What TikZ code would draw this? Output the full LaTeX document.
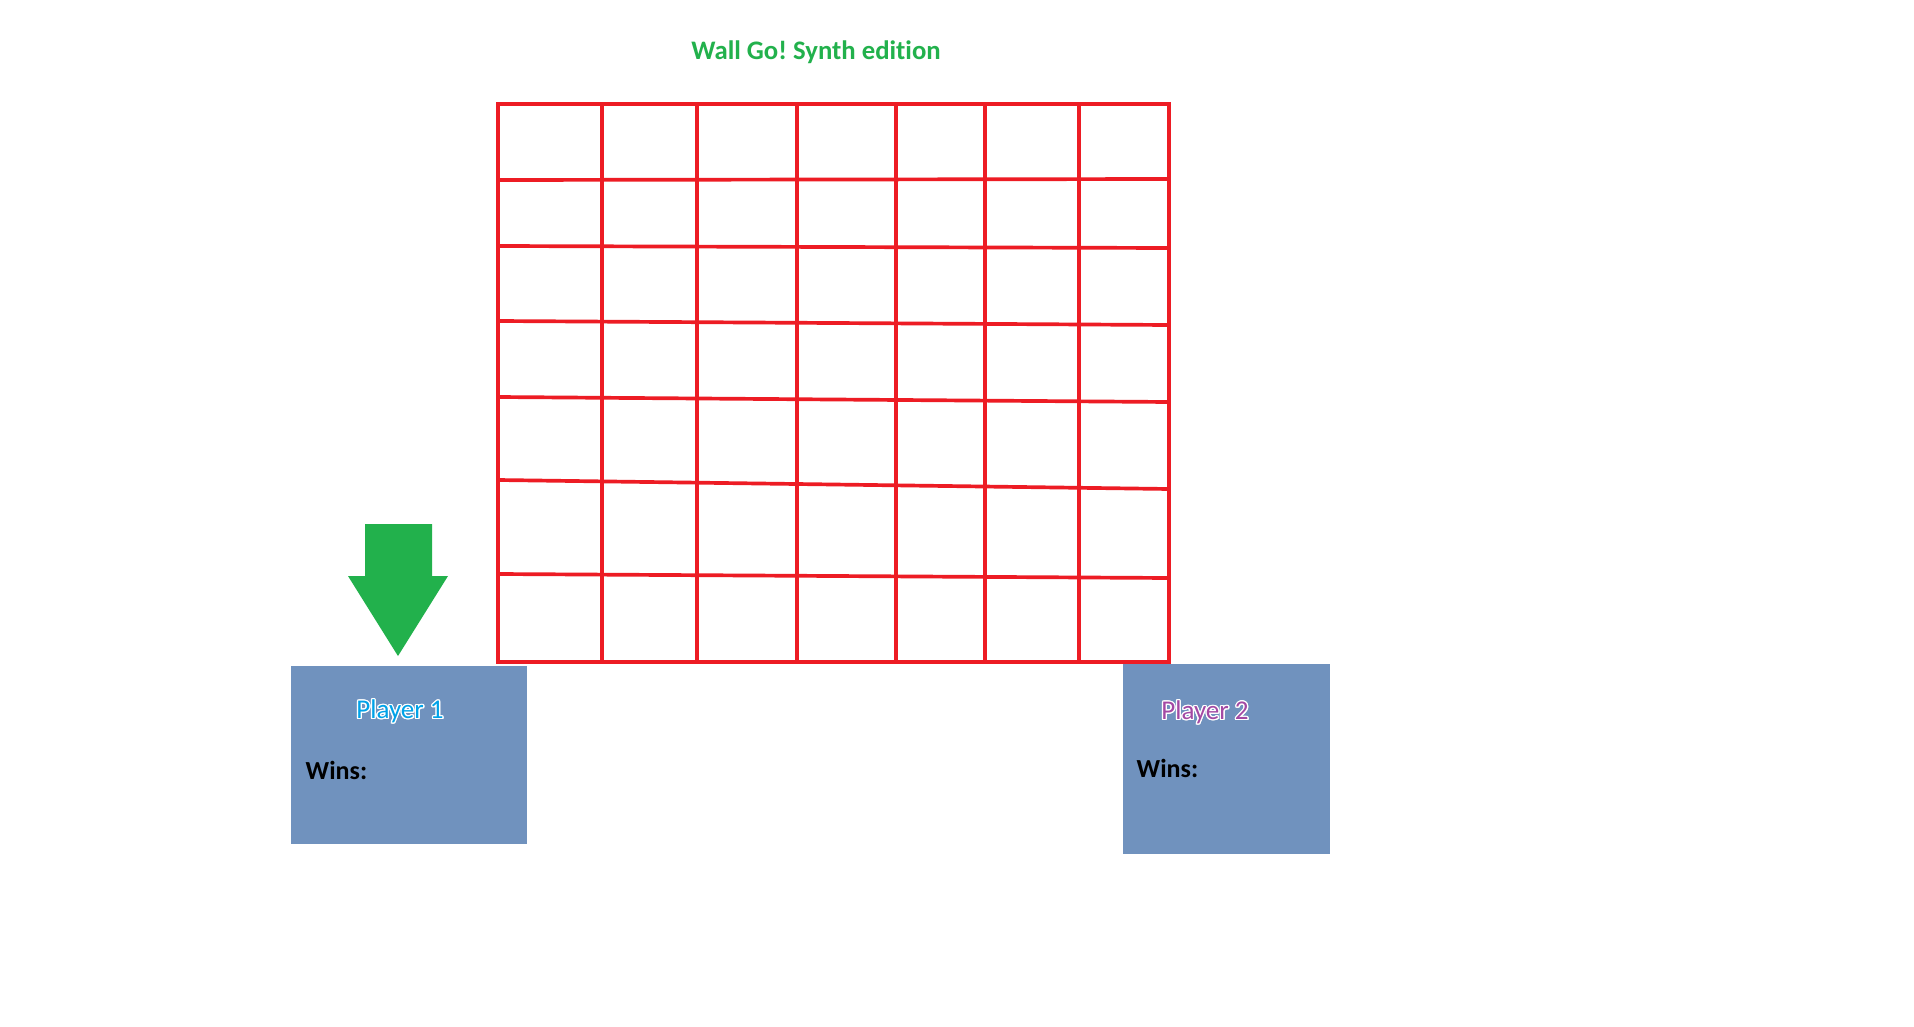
\documentclass[tikz,border=0pt]{standalone}
\usepackage{fontspec}
\setmainfont{Carlito}[Ligatures=NoCommon]
\usepackage{contour}
\contourlength{0.35pt}
\usetikzlibrary{positioning}
\definecolor{paint_red}{HTML}{ED1C24}
\definecolor{paint_green}{HTML}{22B14C}
\definecolor{paint_slate}{HTML}{7092BE}
\definecolor{paint_cyan}{HTML}{00A2E8}
\definecolor{paint_purple}{HTML}{A349A4}
\tikzset{
    x=0.01cm,
    y=-0.01cm,
    wall_line/.style={
        draw=paint_red,
        line width=1.05pt,
        line cap=rect
    },
    game_title/.style={
        text=paint_green,
        font=\bfseries\fontsize{7.6}{9}\selectfont,
        inner sep=0pt
    },
    player_box/.style={
        rectangle,
        fill=paint_slate,
        inner sep=0pt
    },
    player_name/.style={
        font=\fontsize{7.7}{9}\selectfont,
        inner sep=0pt
    },
    wins_label/.style={
        font=\bfseries\fontsize{7.4}{9}\selectfont,
        inner sep=0pt,
        anchor=west
    },
    turn_arrow/.style={
        fill=paint_green,
        draw=none
    }
}

\begin{document}
\begin{tikzpicture}
\useasboundingbox[fill=white] (0,0) rectangle (1914,1027);

% --- Title ---
\node[game_title] (Title) at (816,52) {Wall Go!\ Synth edition};

% --- Board ---
\foreach \x in {498,602,697,797,896,985,1079,1169}
    \draw[wall_line] (\x,104) -- (\x,662);
\foreach \yl/\yr in {104/104,180/179,246/248,321/325,397/402,480/489,574/578,662/662}
    \draw[wall_line] (498,\yl) -- (1169,\yr);

% --- Player 1 ---
\node[player_box, minimum width=2.36cm, minimum height=1.78cm] (P1Box) at (409,755) {};
\node[player_name] (P1Name) at (400,712) {\contour{white}{\textcolor{paint_cyan}{Player 1}}};
\node[wins_label] (P1Wins) at (305,770) {Wins:};

% --- Player 2 ---
\node[player_box, minimum width=2.07cm, minimum height=1.90cm] (P2Box) at (1226.5,759) {};
\node[player_name] (P2Name) at (1205,713) {\contour{white}{\textcolor{paint_purple}{Player 2}}};
\node[wins_label] (P2Wins) at (1136,768) {Wins:};

% --- Turn marker ---
\fill[turn_arrow] (365,524) -- (432,524) -- (432,576) -- (448,576)
    -- (398,656) -- (348,576) -- (365,576) -- cycle;

\end{tikzpicture}
\end{document}
